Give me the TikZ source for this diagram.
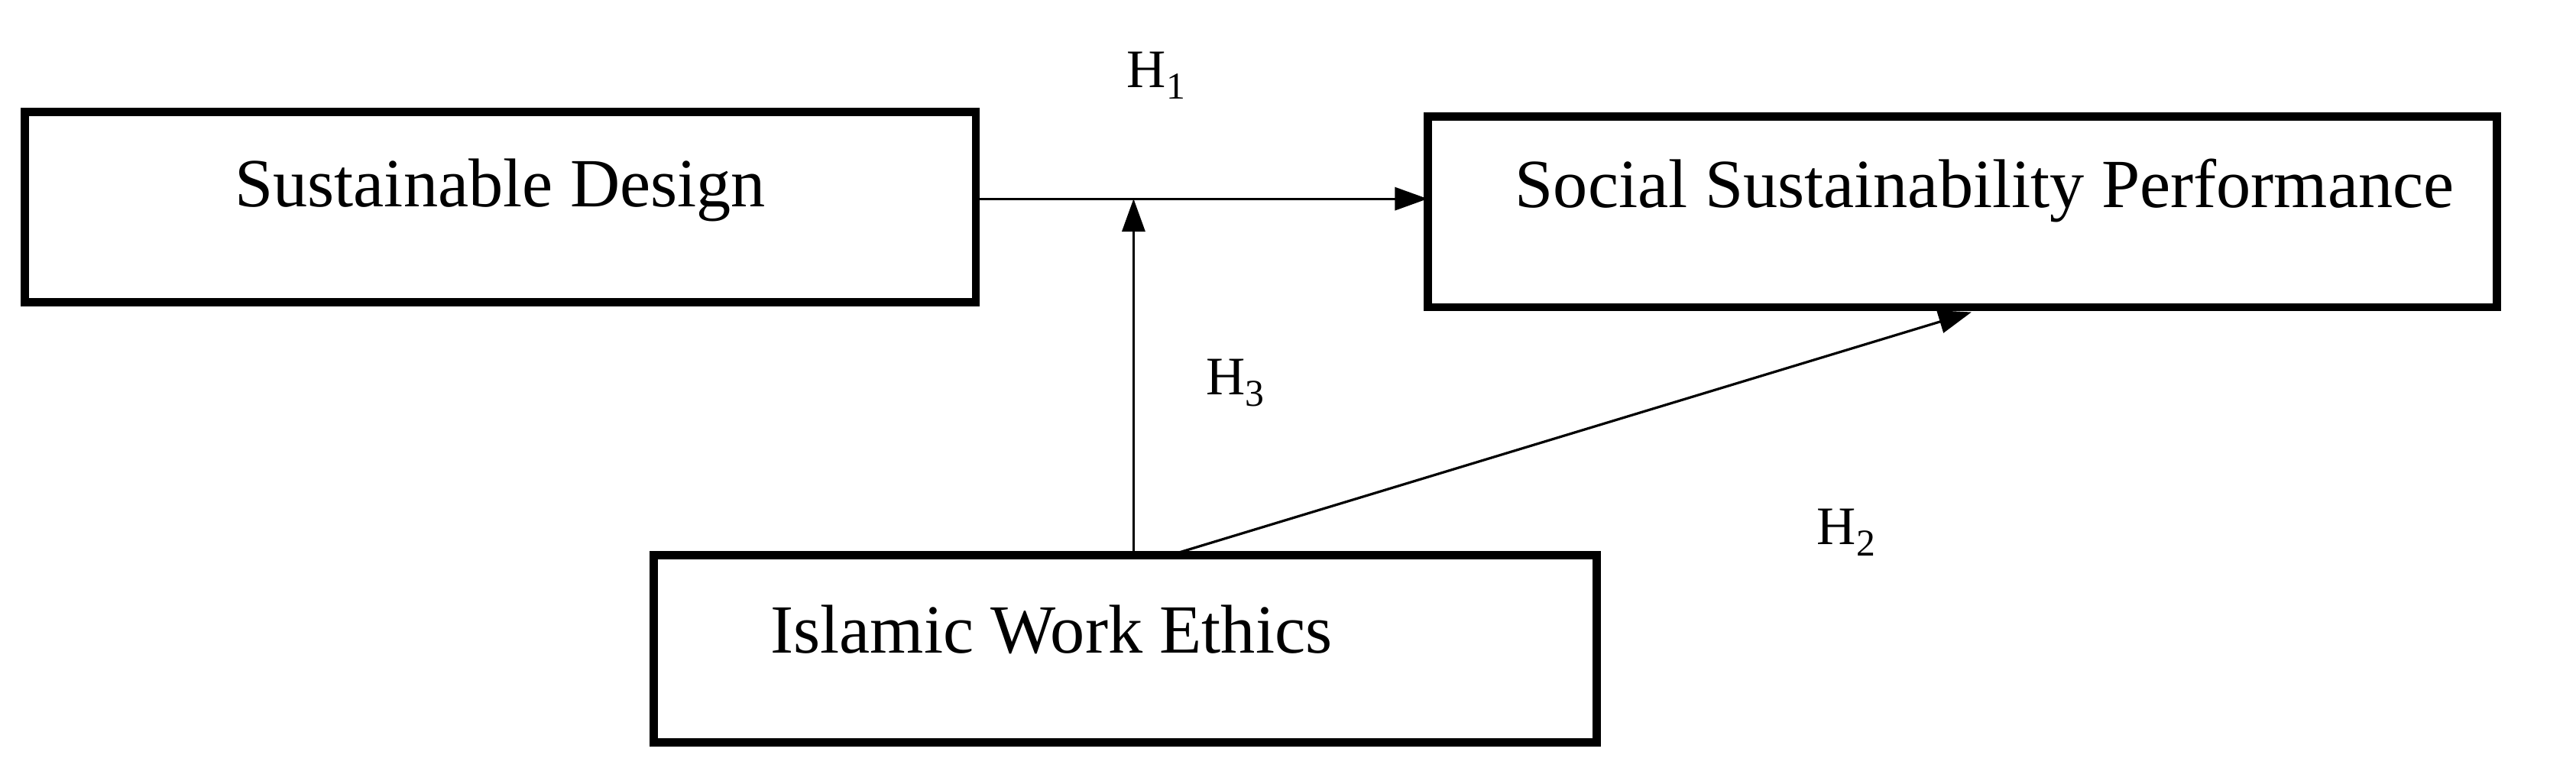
\documentclass[tikz,border=0pt]{standalone}
\usepackage{fontspec}
\setmainfont{Liberation Serif}
\usetikzlibrary{arrows.meta}
\begin{document}
\begin{tikzpicture}[x=1pt,y=-1pt,
  box/.style={draw,line width=5pt,inner sep=0pt},
  conn/.style={line width=1.5pt,-{Triangle[length=20pt,width=14pt]}},
  lbl/.style={font=\fontsize{42}{50}\selectfont},
  hl/.style={font=\fontsize{33}{40}\selectfont}]
\useasboundingbox (0,0) rectangle (1568,475);
\node[box,minimum width=579pt,minimum height=116pt] (sd) at (304.5,126) {};
\node[lbl] at (304.5,116) {Sustainable Design};
\node[box,minimum width=651pt,minimum height=116pt] (ssp) at (1194.5,129) {};
\node[lbl] at (1208,116) {Social Sustainability Performance};
\node[box,minimum width=574pt,minimum height=114pt] (iwe) at (685,395) {};
\node[lbl] at (640,383) {Islamic Work Ethics};
\coordinate (a) at (594,121);
\coordinate (b) at (869,121);
\coordinate (m) at (690,121);
\coordinate (v0) at (690,338);
\coordinate (d0) at (712,338);
\coordinate (d1) at (1200,190);
\draw[conn] (a) -- (b);
\draw[conn] (v0) -- (m);
\draw[conn] (d0) -- (d1);
\node[hl] (h1) at (704,46) {H\textsubscript{1}};
\node[hl] (h3) at (752,233) {H\textsubscript{3}};
\node[hl] (h2) at (1124,324) {H\textsubscript{2}};
\end{tikzpicture}
\end{document}
